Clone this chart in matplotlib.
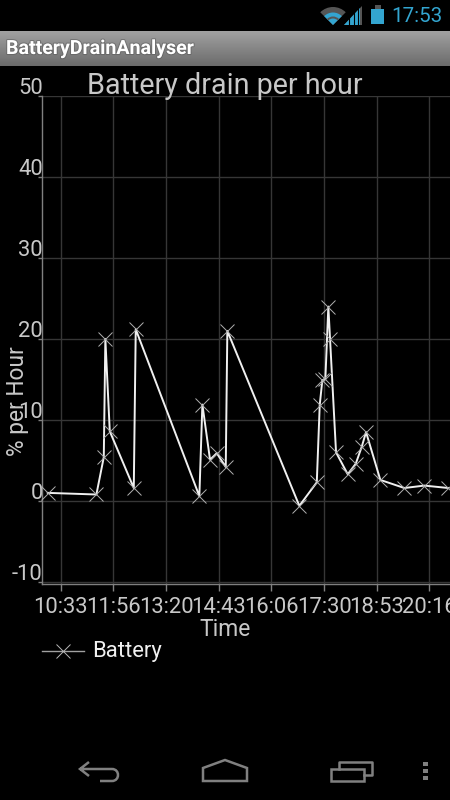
import matplotlib
matplotlib.use("Agg")
import matplotlib.pyplot as plt
import matplotlib.patheffects as pe
from matplotlib.transforms import ScaledTranslation
import numpy as np
from matplotlib.patches import Polygon, Rectangle, Wedge
from matplotlib.path import Path
from matplotlib.patches import PathPatch

plt.rcParams['font.family'] = ['Roboto', 'DejaVu Sans']

# Time in minutes since midnight
minutes = [612.4, 689.4, 701.1, 703.6, 710.6, 748.6, 751.7, 852.4, 857.2, 869.3,
           880.0, 894.2, 896.7, 1010.7, 1038.3, 1043.0, 1047.1, 1051.9, 1056.6,
           1059.3, 1068.8, 1087.3, 1100.0, 1109.5, 1116.3, 1138.9, 1176.9,
           1208.6, 1246.6]
battery = [1.0, 0.8, 5.4, 20.0, 8.6, 1.6, 21.2, 0.6, 11.9, 5.1,
           5.9, 4.2, 21.0, -0.6, 2.3, 11.9, 14.9, 15.1, 24.0,
           20.0, 6.0, 3.3, 4.6, 6.7, 8.5, 2.6, 1.6, 1.9, 1.6]
tick_minutes = [633, 716, 800, 883, 966, 1050, 1133, 1216]
tick_labels = ['10:33', '11:56', '13:20', '14:43', '16:06', '17:30', '18:53', '20:16']
y_ticks = [-10, 0, 10, 20, 30, 40, 50]

W, H = 450, 800
fig = plt.figure(figsize=(W/100, H/100), dpi=100, facecolor='black')

def box(x0, y0, x1, y1):
    return [x0/W, 1-y1/H, (x1-x0)/W, (y1-y0)/H]

# Plot area
ax = fig.add_axes(box(42, 96, 450, 584), facecolor='black')
ax.set_ylim(-10.25, 50)
ax.set_xlim(603.3, 1249.2)
ax.grid(True, color='#363636', lw=1)
ax.set_axisbelow(True)
for s in ['top', 'right']:
    ax.spines[s].set_visible(False)
for s in ['left', 'bottom']:
    ax.spines[s].set_color('#808080')
    ax.spines[s].set_linewidth(1)
ax.set_xticks(tick_minutes)
ax.set_xticklabels(tick_labels)
ax.set_yticks(y_ticks)
ax.set_yticklabels([str(v) for v in y_ticks], va='center')
ax.tick_params(axis='x', colors='#808080', labelcolor='#c8c8c8', length=5, width=1, labelsize=15.8, pad=4.5)
ax.tick_params(axis='y', colors='#808080', labelcolor='#c8c8c8', length=3, width=1, labelsize=15.8, pad=-3.5)
up = ScaledTranslation(0, 7/100, fig.dpi_scale_trans)
for lab in ax.get_yticklabels():
    lab.set_transform(lab.get_transform() + up)

ax.plot(minutes, battery, color='#f0f0f0', lw=1.4, zorder=3, label='Battery')
ax.plot(minutes, battery, ls='none', marker='x', ms=10.5, mew=0.7, color='#b0b0b0', zorder=4, clip_on=False)

# Overlay in pixel coordinates for titles, legend and phone chrome
ov = fig.add_axes([0, 0, 1, 1], facecolor='none')
ov.axis('off')

grad = np.linspace(0.63, 0.42, 64).reshape(-1, 1)
ov.imshow(grad, extent=(0, W, 66, 31), cmap='gray', vmin=0, vmax=1, aspect='auto', zorder=1)
ov.set_xlim(0, W)
ov.set_ylim(H, 0)

ov.text(225, 86.5, 'Battery drain per hour', color='#c8c8c8', fontsize=20.7, ha='center', va='center')
ov.text(225, 629.5, 'Time', color='#c8c8c8', fontsize=16.5, ha='center', va='center')
ov.text(18, 401, '% per Hour', color='#c8c8c8', fontsize=16.4, rotation=90, ha='center', va='center')

# Legend
ov.plot([42, 84], [651, 651], color='#a0a0a0', lw=1)
ov.plot([63], [651], marker='x', ms=10.5, mew=0.7, color='#b8b8b8', ls='none')
ov.text(92, 652, 'Battery', color='#f0f0f0', fontsize=15.8, ha='left', va='center')

# Action bar
ov.text(6, 48.5, 'BatteryDrainAnalyser', color='white', fontsize=14.1, fontweight='bold', ha='left', va='center', zorder=3,
        path_effects=[pe.withStroke(linewidth=1.5, foreground='#555555', alpha=0.5)])

# Status bar
blue = '#33a5d0'
dark = '#555555'
ov.text(442, 16, '17:53', color=blue, fontsize=14.8, ha='right', va='center')
ov.add_patch(Wedge((333, 25), 18, 225, 315, color=dark, lw=0))
ov.add_patch(Wedge((333, 25), 12.5, 225, 315, color=blue, lw=0))
ov.add_patch(Wedge((333, 25), 8.5, 225, 315, width=2, color=dark, lw=0))
ov.add_patch(Polygon([(344, 25), (362, 6), (362, 25)], closed=True, color=dark, lw=0))
ov.add_patch(Polygon([(344, 25), (360, 8), (360, 25)], closed=True, color=blue, lw=0))
for gx in [349, 353.5, 358]:
    ov.plot([gx, gx], [5, 26], color='black', lw=0.8)
ov.add_patch(Rectangle((371, 9), 13, 15, color=blue, lw=0))
ov.add_patch(Rectangle((375, 5), 6, 4, color=dark, lw=0))

# Navigation bar
grey = '#808080'
back = Path([(89, 762), (80, 769), (89, 776), (80, 769), (112, 769), (120, 769), (120, 781), (112, 781), (100, 781)],
            [Path.MOVETO, Path.LINETO, Path.LINETO, Path.MOVETO, Path.LINETO, Path.CURVE4, Path.CURVE4, Path.CURVE4, Path.LINETO])
ov.add_patch(PathPatch(back, fc='none', ec=grey, lw=1.8))
ov.add_patch(Polygon([(203, 781), (203, 768), (225, 760), (247, 768), (247, 781)], closed=True, fc='none', ec=grey, lw=1.8))
ov.add_patch(Rectangle((331, 769), 33, 12, fc='none', ec=grey, lw=1.8))
ov.plot([339, 339, 372, 372, 364], [769, 762, 762, 775, 775], color=grey, lw=1.8)
for yy in [764, 771, 778]:
    ov.add_patch(Rectangle((423, yy-2), 4.5, 4, color=grey, lw=0))

fig.savefig('out.png', dpi=100, facecolor='black')
